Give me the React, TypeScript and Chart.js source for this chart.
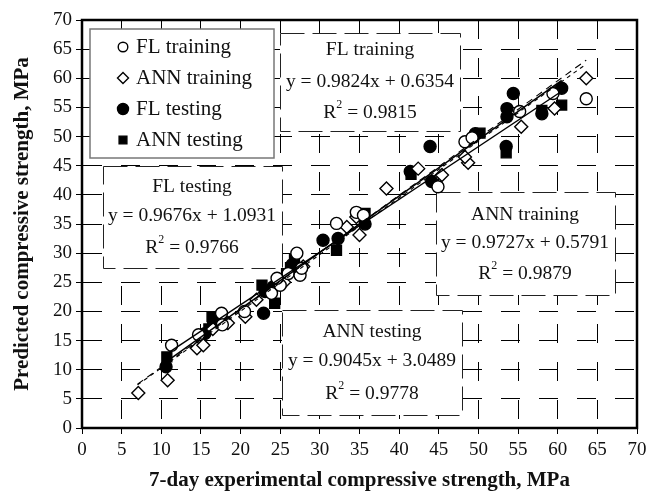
import React, { useEffect, useRef } from "react";
import { Chart, registerables } from "chart.js";

Chart.register(...registerables);

// ---- data ----
const flTrainX = [11.3, 14.7, 17.6, 17.7, 20.5, 23.9, 25.0, 24.6, 26.0, 27.1, 27.5, 27.7, 32.1, 34.6, 35.5, 44.9, 48.3, 49.2, 55.2, 59.4, 63.6];
const flTrainY = [14.2, 16.0, 19.7, 17.7, 20.0, 23.1, 24.5, 25.7, 26.5, 30.0, 26.2, 27.4, 35.1, 37.0, 36.5, 41.4, 49.1, 49.8, 54.3, 57.4, 56.5];

const annTrainX = [7.1, 10.8, 14.5, 15.3, 16.5, 18.4, 20.6, 22.0, 25.5, 27.9, 33.4, 34.6, 35.0, 38.4, 42.4, 45.4, 48.7, 48.3, 55.4, 59.6, 63.6];
const annTrainY = [6.0, 8.2, 13.7, 14.2, 17.0, 18.0, 19.1, 22.0, 25.0, 27.7, 34.5, 36.2, 33.1, 41.1, 44.5, 43.4, 45.5, 46.5, 51.7, 54.8, 60.0];

const flTestX = [10.6, 15.5, 16.6, 22.9, 23.1, 24.1, 26.5, 30.4, 32.3, 35.7, 41.4, 44.1, 43.9, 49.6, 53.5, 53.6, 53.6, 54.4, 58.0, 60.5];
const flTestY = [10.5, 16.2, 18.0, 19.7, 23.4, 24.2, 28.0, 32.2, 32.5, 35.0, 44.0, 42.3, 48.3, 50.5, 48.3, 53.4, 54.8, 57.4, 53.9, 58.3];

const annTestX = [10.7, 16.0, 16.4, 22.7, 24.3, 25.8, 26.3, 26.8, 32.1, 35.7, 41.5, 50.2, 53.5, 58.0, 60.5];
const annTestY = [12.2, 17.0, 19.1, 24.5, 21.4, 26.5, 27.5, 29.0, 30.5, 36.8, 43.5, 50.6, 47.2, 54.5, 55.4];

// trend lines (end points of the fitted lines shown in the chart)
const flTrainLineX = [7.0, 63.6];
const flTrainLineY = [7.51, 63.12];
const annTrainLineX = [7.0, 63.6];
const annTrainLineY = [7.39, 62.44];
const flTestLineX = [10.2, 60.5];
const flTestLineY = [10.96, 59.63];
const annTestLineX = [10.5, 60.5];
const annTestLineY = [12.55, 57.77];

const seriesLabels = ["FL training", "ANN training", "FL testing", "ANN testing"];

const boxTitles = ["FL training", "FL testing", "ANN training", "ANN testing"];
const boxEquations = ["y = 0.9824x + 0.6354", "y = 0.9676x + 1.0931", "y = 0.9727x + 0.5791", "y = 0.9045x + 3.0489"];
const boxR2 = ["0.9815", "0.9766", "0.9879", "0.9778"];

const xTitle = "7-day experimental compressive strength, MPa";
const yTitle = "Predicted compressive strength, MPa";

const pts = (xs: number[], ys: number[]) => xs.map((x, i) => ({ x, y: ys[i] }));

const SERIF = '"Liberation Serif", "Times New Roman", serif';

// layout of annotation boxes (pixels)
const boxLayout = [
  { x: 280, y: 33, w: 180, h: 98, cx: 370, ly: [50, 82, 113] },
  { x: 103, y: 166, w: 179, h: 102, cx: 192, ly: [187, 216, 248] },
  { x: 436, y: 192, w: 179, h: 103, cx: 525, ly: [215, 243, 274] },
  { x: 282, y: 310, w: 180, h: 105, cx: 372, ly: [332, 361, 394] },
];

function drawMarker(ctx: CanvasRenderingContext2D, style: string, x: number, y: number, r: number, filled: boolean) {
  ctx.beginPath();
  if (style === "circle") {
    ctx.arc(x, y, r, 0, Math.PI * 2);
  } else if (style === "rectRot") {
    ctx.moveTo(x - r, y);
    ctx.lineTo(x, y - r);
    ctx.lineTo(x + r, y);
    ctx.lineTo(x, y + r);
    ctx.closePath();
  } else {
    const s = r * Math.SQRT1_2;
    ctx.rect(x - s, y - s, 2 * s, 2 * s);
  }
  ctx.fillStyle = filled ? "#000" : "#fff";
  ctx.fill();
  ctx.lineWidth = 1.4;
  ctx.strokeStyle = "#000";
  ctx.stroke();
}

const decorPlugin = {
  id: "decor",
  beforeDatasetsDraw(chart: any) {
    const ctx: CanvasRenderingContext2D = chart.ctx;
    ctx.save();
    boxLayout.forEach((b, i) => {
      ctx.fillStyle = "#fff";
      ctx.fillRect(b.x, b.y, b.w, b.h);
      ctx.setLineDash([24, 8]);
      ctx.lineWidth = 1;
      ctx.strokeStyle = "#222";
      ctx.strokeRect(b.x + 0.5, b.y + 0.5, b.w, b.h);
      ctx.setLineDash([]);
      ctx.fillStyle = "#111";
      ctx.textBaseline = "middle";
      ctx.textAlign = "center";
      ctx.font = `19.5px ${SERIF}`;
      ctx.fillText(boxTitles[i], b.cx, b.ly[0]);
      ctx.fillText(boxEquations[i], b.cx, b.ly[1]);
      // R^2 line
      ctx.textAlign = "left";
      ctx.font = `19.5px ${SERIF}`;
      const rW = ctx.measureText("R").width;
      const rest = " = " + boxR2[i];
      const restW = ctx.measureText(rest).width;
      ctx.font = `12px ${SERIF}`;
      const sW = ctx.measureText("2").width;
      const total = rW + sW + restW;
      const sx = b.cx - total / 2;
      ctx.font = `19.5px ${SERIF}`;
      ctx.fillText("R", sx, b.ly[2]);
      ctx.fillText(rest, sx + rW + sW, b.ly[2]);
      ctx.font = `12px ${SERIF}`;
      ctx.fillText("2", sx + rW, b.ly[2] - 8);
    });
    ctx.restore();
  },
  afterDraw(chart: any) {
    const ctx: CanvasRenderingContext2D = chart.ctx;
    const a = chart.chartArea;
    ctx.save();
    // legend
    const lx = 90, ly = 29, lw = 184, lh = 129;
    ctx.fillStyle = "#fff";
    ctx.fillRect(lx, ly, lw, lh);
    ctx.lineWidth = 1.5;
    ctx.strokeStyle = "#777";
    ctx.strokeRect(lx, ly, lw, lh);
    const rows = [47, 78, 109, 140];
    const ds = chart.data.datasets;
    for (let i = 0; i < 4; i++) {
      const d = ds[i];
      const filled = d.backgroundColor === "#000";
      const r = d.pointStyle === "rect" ? 5.5 : d.pointStyle === "rectRot" ? 5.5 : filled ? 5.5 : 4.8;
      drawMarker(ctx, d.pointStyle, 123, rows[i], r, filled);
      ctx.fillStyle = "#111";
      ctx.font = `21px ${SERIF}`;
      ctx.textAlign = "left";
      ctx.textBaseline = "middle";
      ctx.fillText(d.label, 136, rows[i]);
    }
    // frame
    ctx.lineWidth = 2.5;
    ctx.strokeStyle = "#000";
    ctx.strokeRect(a.left, a.top, a.right - a.left, a.bottom - a.top);
    ctx.restore();
  },
};

export default function App() {
  const ref = useRef<HTMLCanvasElement | null>(null);
  useEffect(() => {
    if (!ref.current) return;
    const markerBase = { showLine: false, pointBorderColor: "#000", pointBorderWidth: 1.4, borderColor: "#000" };
    const lineBase = { showLine: true, pointRadius: 0, borderColor: "#000", backgroundColor: "#000", order: 0, fill: false };
    const chart = new Chart(ref.current, {
      type: "scatter",
      data: {
        datasets: [
          { ...markerBase, label: seriesLabels[0], data: pts(flTrainX, flTrainY), pointStyle: "circle", pointRadius: 6, backgroundColor: "#fff", pointBackgroundColor: "#fff", order: 1 },
          { ...markerBase, label: seriesLabels[1], data: pts(annTrainX, annTrainY), pointStyle: "rectRot", pointRadius: 6.5, backgroundColor: "#fff", pointBackgroundColor: "#fff", order: 1 },
          { ...markerBase, label: seriesLabels[2], data: pts(flTestX, flTestY), pointStyle: "circle", pointRadius: 6, backgroundColor: "#000", pointBackgroundColor: "#000", order: 2 },
          { ...markerBase, label: seriesLabels[3], data: pts(annTestX, annTestY), pointStyle: "rect", pointRadius: 7, backgroundColor: "#000", pointBackgroundColor: "#000", order: 2 },
          { ...lineBase, label: "FL training fit", data: pts(flTrainLineX, flTrainLineY), borderWidth: 1.1, borderDash: [7, 5] },
          { ...lineBase, label: "ANN training fit", data: pts(annTrainLineX, annTrainLineY), borderWidth: 1.1, borderDash: [4, 4] },
          { ...lineBase, label: "FL testing fit", data: pts(flTestLineX, flTestLineY), borderWidth: 1.4 },
          { ...lineBase, label: "ANN testing fit", data: pts(annTestLineX, annTestLineY), borderWidth: 1.4 },
        ] as any,
      },
      options: {
        responsive: false,
        animation: false,
        events: [],
        devicePixelRatio: 1,
        layout: { padding: { top: 20, right: 25, left: 0, bottom: 0 } },
        plugins: { legend: { display: false }, tooltip: { enabled: false } },
        scales: {
          x: {
            type: "linear",
            min: 0,
            max: 70,
            afterFit: (s: any) => { s.height = 66; },
            ticks: { stepSize: 5, color: "#111", padding: 5, font: { family: SERIF, size: 19 } },
            grid: { color: "#000", lineWidth: 1, tickLength: 6, tickColor: "#000", tickWidth: 1 },
            border: { display: true, color: "#000", width: 2, dash: [19, 19] },
            title: { display: true, text: xTitle, color: "#111", font: { family: SERIF, size: 21, weight: "bold" }, padding: { top: 0, bottom: 1 } },
          },
          y: {
            type: "linear",
            min: 0,
            max: 70,
            afterFit: (s: any) => { s.width = 82; },
            ticks: { stepSize: 5, color: "#111", padding: 4, font: { family: SERIF, size: 19 } },
            grid: { color: "#000", lineWidth: 1, tickLength: 6, tickColor: "#000", tickWidth: 1 },
            border: { display: true, color: "#000", width: 2, dash: [19, 19] },
            title: { display: true, text: yTitle, color: "#111", font: { family: SERIF, size: 21, weight: "bold" }, padding: { top: 10, bottom: 0 } },
          },
        },
      } as any,
      plugins: [decorPlugin as any],
    });
    return () => chart.destroy();
  }, []);
  return (
    <div style={{ position: "absolute", left: 0, top: 0, width: 662, height: 494, background: "#fff" }}>
      <canvas ref={ref} width={662} height={494} style={{ width: 662, height: 494, display: "block" }} />
    </div>
  );
}
